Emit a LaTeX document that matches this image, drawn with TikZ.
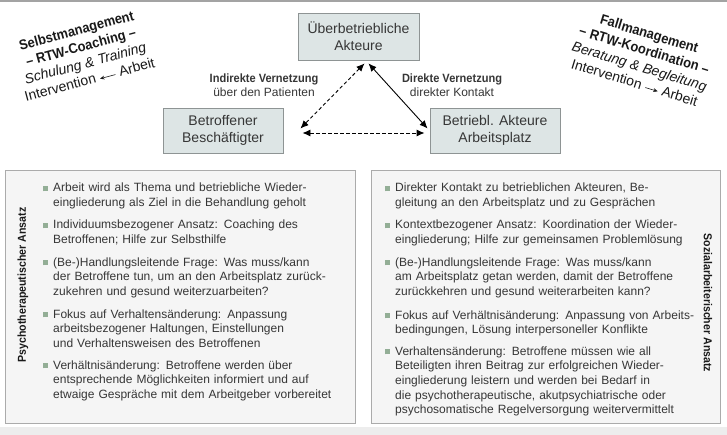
\documentclass[tikz,border=0pt]{standalone}
\usepackage{fontspec}
\setmainfont{Liberation Sans}[BoldFeatures={FakeStretch=0.92}]
\usetikzlibrary{arrows.meta,calc}
\definecolor{txt}{HTML}{363636}
\definecolor{bul}{HTML}{93AE96}
\definecolor{akfill}{HTML}{DDE5E5}
\definecolor{akdraw}{HTML}{8E9494}
\definecolor{pnfill}{HTML}{F5F5F5}
\definecolor{pndraw}{HTML}{ABABAB}
\definecolor{strip}{HTML}{EDEDED}
\definecolor{topln}{HTML}{A3A3A3}
\newcommand{\blt}{\llap{\textcolor{bul}{\rule[0.6pt]{5pt}{5pt}}\hspace{5pt}}}
\newcommand{\larr}{\tikz[baseline=-3.2pt]\draw[line width=0.6pt,-{Stealth[length=4.5pt,width=3.8pt]}] (16pt,0pt) -- (0pt,0pt);}
\newcommand{\rarr}{\tikz[baseline=-3.2pt]\draw[line width=0.6pt,-{Stealth[length=4.5pt,width=3.8pt]}] (0pt,0pt) -- (13pt,0pt);}
\begin{document}
\begin{tikzpicture}[x=1pt,y=-1pt,
  akteur/.style={draw=akdraw, fill=akfill, line width=0.9pt, align=center, text=txt,
    font=\fontsize{14}{17}\selectfont, inner sep=0pt},
  panel/.style={draw=pndraw, fill=pnfill, line width=1pt, inner sep=0pt, anchor=north west},
  lbl/.style={align=center, text=txt, font=\fontsize{12}{14}\selectfont, inner sep=0pt},
  head/.style={align=center, text=black!90, font=\fontsize{14}{17}\selectfont, inner sep=0pt},
  vlabel/.style={text=black!90, font=\fontsize{11.5}{13}\selectfont\bfseries, inner sep=0pt},
  itm/.style={anchor=base west, text width=320pt, align=left, text=txt,
    font=\fontsize{12}{14.7}\selectfont, inner sep=0pt},
  conn/.style={line width=0.9pt, {Latex[length=8pt,width=7pt]}-{Latex[length=8pt,width=7pt]}},
  dconn/.style={conn, dash pattern=on 3.5pt off 2.5pt}
]
\useasboundingbox (0,0) rectangle (727,435);
\fill[strip] (0,427) rectangle (727,435);
\fill[topln] (0,0) rectangle (727,1.6);

% top triangle
\node[akteur, minimum width=121pt, minimum height=47pt] (ueb) at (358.5,36.5) {Überbetriebliche\\Akteure};
\node[akteur, minimum width=120pt, minimum height=45pt] (betr) at (223,130.5) {Betroffener\\Beschäftigter};
\node[akteur, minimum width=130pt, minimum height=45pt] (arb) at (495,130.5) {Betriebl. Akteure\\Arbeitsplatz};

\coordinate (a1) at ($(ueb.south)+(6,3)$);
\coordinate (a2) at ($(ueb.south)+(10,3)$);
\coordinate (b1) at ($(betr.east)+(17,-2)$);
\coordinate (b2) at ($(betr.east)+(19,2.5)$);
\coordinate (c1) at ($(arb.west)+(-5,2.5)$);
\coordinate (c2) at ($(arb.west)+(-2,-2)$);
\draw[dconn] (a1) -- (b1);
\draw[dconn] (b2) -- (c1);
\draw[conn] (a2) -- (c2);

\node[lbl] (ind) at (264,85) {\textbf{Indirekte Vernetzung}\\über den Patienten};
\node[lbl] (dir) at (452,85) {\textbf{Direkte Vernetzung}\\direkter Kontakt};

% rotated headings
\node[head, rotate=15] (selbst) at (83,55) {\textbf{Selbstmanagement}\\\textbf{– RTW-Coaching –}\\\textit{Schulung \& Training}\\Intervention \larr{} Arbeit};
\node[head, rotate=-17] (fall) at (642,58) {\textbf{Fallmanagement}\\\textbf{– RTW-Koordination –}\\\textit{Beratung \& Begleitung}\\Intervention \rarr{} Arbeit};

% panels
\node[panel, minimum width=350pt, minimum height=253pt] (psy) at (5,170) {};
\node[panel, minimum width=349pt, minimum height=253pt] (soz) at (371,170) {};
\node[vlabel, rotate=90] (psylab) at (23,285) {Psychotherapeutischer Ansatz};
\node[vlabel, rotate=-90] (sozlab) at (708,303) {Sozialarbeiterischer Ansatz};

% left items
\node[itm] (l1) at (53,192) {\blt Arbeit wird als Thema und betriebliche Wieder-\\eingliederung als Ziel in die Behandlung geholt};
\node[itm] (l2) at (53,229) {\blt Individuumsbezogener Ansatz: Coaching des\\Betroffenen; Hilfe zur Selbsthilfe};
\node[itm] (l3) at (53,266) {\blt (Be-)Handlungsleitende Frage: Was muss/kann\\der Betroffene tun, um an den Arbeitsplatz zurück-\\zukehren und gesund weiterzuarbeiten?};
\node[itm] (l4) at (53,318) {\blt Fokus auf Verhaltensänderung: Anpassung\\arbeitsbezogener Haltungen, Einstellungen\\und Verhaltensweisen des Betroffenen};
\node[itm] (l5) at (53,369) {\blt Verhältnisänderung: Betroffene werden über\\entsprechende Möglichkeiten informiert und auf\\etwaige Gespräche mit dem Arbeitgeber vorbereitet};

% right items
\node[itm] (r1) at (395,192) {\blt Direkter Kontakt zu betrieblichen Akteuren, Be-\\gleitung an den Arbeitsplatz und zu Gesprächen};
\node[itm] (r2) at (395,229) {\blt Kontextbezogener Ansatz: Koordination der Wieder-\\eingliederung; Hilfe zur gemeinsamen Problemlösung};
\node[itm] (r3) at (395,266) {\blt (Be-)Handlungsleitende Frage: Was muss/kann\\am Arbeitsplatz getan werden, damit der Betroffene\\zurückkehren und gesund weiterarbeiten kann?};
\node[itm] (r4) at (395,319) {\blt Fokus auf Verhältnisänderung: Anpassung von Arbeits-\\bedingungen, Lösung interpersoneller Konflikte};
\node[itm] (r5) at (395,355) {\blt Verhaltensänderung: Betroffene müssen wie all\\Beteiligten ihren Beitrag zur erfolgreichen Wieder-\\eingliederung leistern und werden bei Bedarf in\\die psychotherapeutische, akutpsychiatrische oder\\psychosomatische Regelversorgung weitervermittelt};
\end{tikzpicture}
\end{document}
